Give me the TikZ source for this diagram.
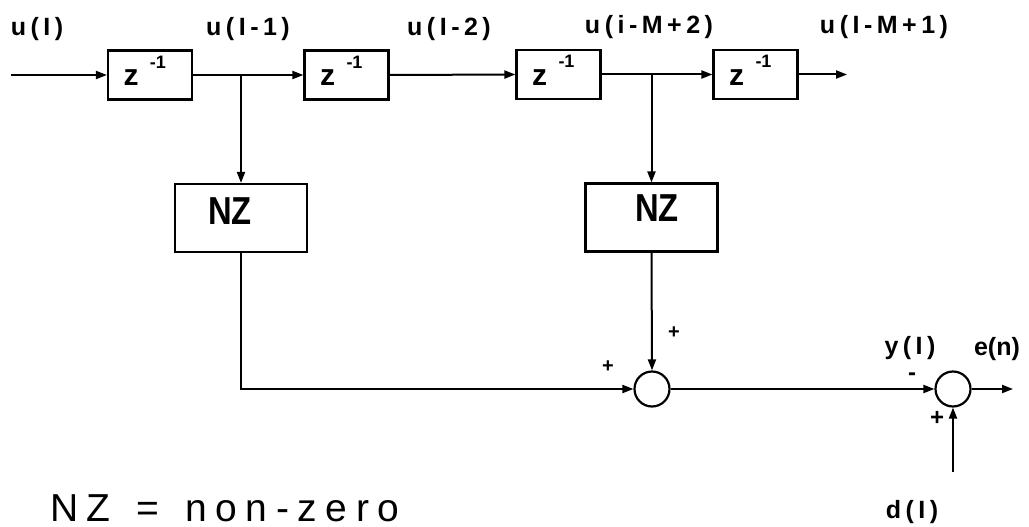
\documentclass[tikz,border=0pt]{standalone}
\usepackage{fontspec}
\usepackage{graphicx}
\setmainfont{Liberation Sans}
\newfontfamily\lblfont[LetterSpace=18]{Liberation Sans Bold}
\newfontfamily\boldfont{Liberation Sans Bold}
\newfontfamily\notefont[LetterSpace=22]{Liberation Sans}
\usetikzlibrary{arrows.meta}
\begin{document}
\begin{tikzpicture}[x=1pt,y=-1pt,
  wire/.style={line width=2pt},
  arr/.style={wire,-{Triangle[length=11pt,width=8pt]}},
  delaybox/.style={draw,line width=2.2pt,minimum width=84pt,minimum height=49pt,inner sep=0pt},
  nzbox/.style={draw,line width=2.2pt,minimum width=132pt,minimum height=68pt,inner sep=0pt},
  sumnode/.style={draw,circle,line width=2.2pt,minimum size=35pt,inner sep=0pt},
  sig/.style={font=\fontsize{25}{25}\lblfont,inner sep=0pt},
  sign/.style={font=\fontsize{20}{20}\boldfont,inner sep=0pt},
  zlabel/.style={font=\fontsize{30}{30}\boldfont,inner sep=0pt},
  zexp/.style={font=\fontsize{18}{18}\boldfont,inner sep=0pt},
  nztext/.style={font=\fontsize{39}{39}\boldfont,inner sep=0pt}]
\useasboundingbox (0,0) rectangle (1029,527);

% delay line
\node[delaybox] (z1) at (150,75) {};
\node[delaybox] (z2) at (346.5,75) {};
\node[delaybox] (z3) at (558.5,74.5) {};
\node[delaybox] (z4) at (755.5,74.5) {};
\foreach \b in {z1,z2,z3,z4}{
  \node[zlabel] (\b z) at ([shift={(-19pt,-3pt)}]\b.center) {z};
  \node[zexp] (\b e) at ([shift={(8pt,13pt)}]\b.center) {-1};
}

% taps and non-zero blocks
\node[nzbox] (nz1) at (241,218) {};
\node[nzbox] (nz2) at (651.5,217.5) {};
\node[nztext] (nz1t) at (230,211) {\scalebox{0.84}[1]{NZ}};
\node[nztext] (nz2t) at (657,208) {\scalebox{0.84}[1]{NZ}};

% summing junctions
\node[sumnode] (s1) at (652,389) {};
\node[sumnode] (s2) at (953,389) {};

\coordinate (in) at (11,75);
\coordinate (out) at (847,74.5);
\coordinate (t1) at (nz1.north |- z1.east);
\coordinate (t2) at (nz2.north |- z3.east);
\coordinate (eout) at (1013,389);
\coordinate (din) at (953,472);

\draw[arr] (in) -- (z1.west);
\draw[arr] (z1.east) -- (z2.west);
\draw[arr] (z2.east) -- (z3.west);
\draw[arr] (z3.east) -- (z4.west);
\draw[arr] (z4.east) -- (out);
\draw[arr] (t1) -- (nz1.north);
\draw[arr] (t2) -- (nz2.north);
\draw[arr] (nz1.south) |- (s1.west);
\draw[arr] (nz2.south) -- (s1.north);
\draw[arr] (s1.east) -- (s2.west);
\draw[arr] (s2.east) -- (eout);
\draw[arr] (din) -- (s2.south);

% signal labels
\node[sig] (lu0) at (37,29) {u(I)};
\node[sig] (lu1) at (248,29) {u(I-1)};
\node[sig] (lu2) at (449,29) {u(I-2)};
\node[sig] (lu3) at (649,27) {u(i-M+2)};
\node[sig] (lu4) at (884,27) {u(I-M+1)};
\node[sig] (ly) at (910,348) {y(I)};
\node[font=\fontsize{25}{25}\boldfont,inner sep=0pt] (le) at (997,349) {e(n)};
\node[sig] (ld) at (912,512) {d(I)};

% signs at the junctions
\node[sign] (p1) at (608,367) {+};
\node[sign] (p2) at (674,333) {+};
\node[font=\fontsize{24}{24}\boldfont,inner sep=0pt] (m3) at (912,377) {-};
\node[font=\fontsize{24}{24}\boldfont,inner sep=0pt] (p4) at (937,418) {+};

% legend
\node[font=\fontsize{39}{39}\notefont,inner sep=0pt,anchor=west] (legend) at (50,508) {NZ\, = \,non-zero};
\end{tikzpicture}
\end{document}
